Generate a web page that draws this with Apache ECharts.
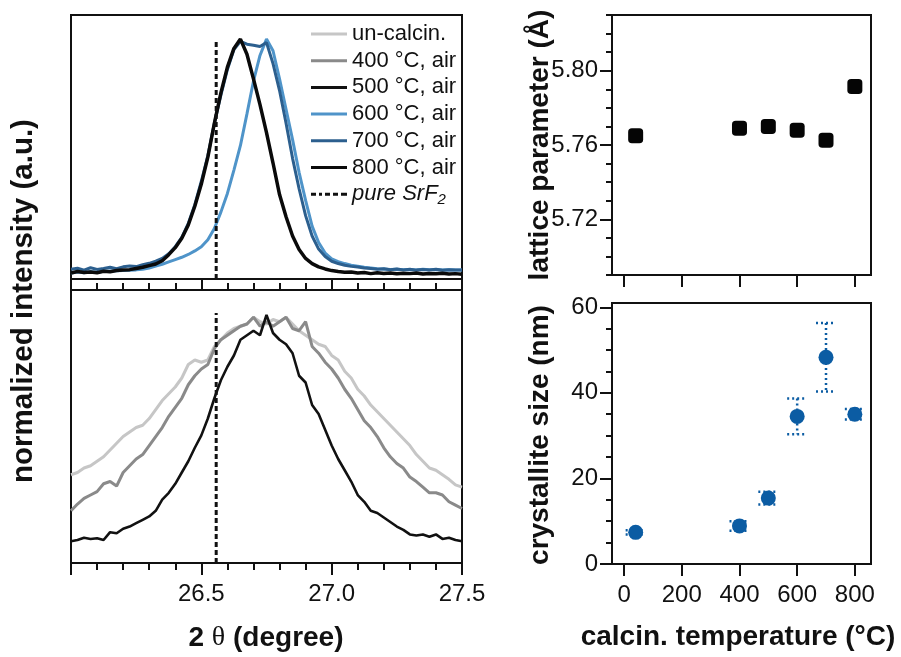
<!DOCTYPE html>
<html><head><meta charset="utf-8">
<script src="https://cdn.jsdelivr.net/npm/echarts@6/dist/echarts.min.js"></script>
<style>html,body{margin:0;padding:0;background:#fff}#c{width:901px;height:657px}</style>
</head><body><div id="c"></div>
<script>
// ---- data ----
const twoTheta = [26.000,26.025,26.050,26.075,26.100,26.125,26.150,26.175,26.200,26.225,
  26.250,26.275,26.300,26.325,26.350,26.375,26.400,26.425,26.450,26.475,
  26.500,26.525,26.550,26.575,26.600,26.625,26.650,26.675,26.700,26.725,
  26.750,26.775,26.800,26.825,26.850,26.875,26.900,26.925,26.950,26.975,
  27.000,27.025,27.050,27.075,27.100,27.125,27.150,27.175,27.200,27.225,
  27.250,27.275,27.300,27.325,27.350,27.375,27.400,27.425,27.450,27.475,27.500];
// upper panel (normalized)
const top600 = [0.000,0.004,0.001,0.006,0.003,0.007,0.008,0.009,0.010,0.011,
  0.013,0.016,0.021,0.029,0.037,0.047,0.057,0.067,0.079,0.094,
  0.112,0.142,0.190,0.260,0.340,0.440,0.545,0.680,0.820,0.930,
  1.000,0.950,0.830,0.700,0.570,0.430,0.310,0.200,0.130,0.085,
  0.060,0.048,0.040,0.033,0.029,0.024,0.021,0.018,0.017,0.015,
  0.016,0.014,0.015,0.013,0.016,0.014,0.015,0.013,0.014,0.012,0.013];
const top700 = [0.016,0.020,0.012,0.022,0.015,0.019,0.024,0.018,0.026,0.030,
  0.027,0.035,0.041,0.050,0.062,0.082,0.112,0.152,0.212,0.292,
  0.392,0.502,0.640,0.760,0.870,0.955,0.990,0.978,0.974,0.968,
  0.985,0.895,0.780,0.640,0.490,0.360,0.245,0.158,0.102,0.070,
  0.050,0.040,0.033,0.028,0.025,0.021,0.019,0.016,0.018,0.014,
  0.017,0.013,0.016,0.012,0.015,0.013,0.016,0.011,0.014,0.012,0.013];
const top800 = [0.000,0.006,0.002,0.004,0.001,0.007,0.005,0.010,0.012,0.014,
  0.019,0.024,0.031,0.038,0.052,0.078,0.108,0.148,0.205,0.285,
  0.380,0.495,0.640,0.770,0.880,0.960,1.000,0.935,0.830,0.720,
  0.600,0.470,0.335,0.240,0.158,0.100,0.062,0.040,0.026,0.017,
  0.010,0.006,0.003,0.004,0.000,0.002,-0.003,0.001,-0.002,0.000,
  -0.004,-0.001,-0.003,0.000,-0.005,-0.002,-0.004,-0.001,-0.005,-0.003,-0.006];
// lower panel (normalized)
const botUncalc = [0.29,0.30,0.32,0.33,0.35,0.37,0.40,0.43,0.46,0.48,
  0.50,0.51,0.54,0.58,0.62,0.65,0.68,0.72,0.78,0.80,
  0.79,0.80,0.86,0.89,0.92,0.94,0.95,0.96,0.99,0.97,
  0.96,0.98,0.97,0.99,0.96,0.93,0.91,0.89,0.87,0.86,
  0.82,0.80,0.75,0.72,0.67,0.64,0.60,0.57,0.54,0.51,
  0.48,0.45,0.42,0.38,0.35,0.32,0.31,0.29,0.27,0.245,0.235];
const bot400 = [0.13,0.16,0.185,0.20,0.215,0.25,0.26,0.24,0.30,0.33,
  0.36,0.38,0.42,0.46,0.50,0.55,0.59,0.63,0.69,0.73,
  0.76,0.78,0.85,0.89,0.91,0.93,0.95,0.96,0.99,0.95,
  0.97,0.95,0.97,0.99,0.94,0.93,0.97,0.86,0.83,0.79,
  0.76,0.72,0.67,0.63,0.58,0.53,0.50,0.46,0.41,0.37,
  0.34,0.32,0.28,0.26,0.235,0.21,0.21,0.20,0.17,0.155,0.14];
const bot500 = [-0.005,0.000,0.010,0.005,0.008,0.000,0.035,0.030,0.050,0.060,
  0.075,0.090,0.105,0.130,0.180,0.210,0.250,0.300,0.350,0.410,
  0.465,0.540,0.630,0.710,0.770,0.820,0.890,0.910,0.930,0.910,
  1.000,0.920,0.890,0.870,0.830,0.730,0.700,0.600,0.560,0.490,
  0.420,0.360,0.310,0.260,0.200,0.170,0.130,0.120,0.100,0.080,
  0.060,0.045,0.025,0.020,0.025,0.015,0.025,0.005,0.010,0.000,-0.005];
const srf2Pos = 26.557;
// right panels
const temps = [40, 400, 500, 600, 700, 800];
const lattice = [5.765, 5.769, 5.770, 5.768, 5.7625, 5.7915];
const latticeErr = [0.0016, 0.0005, 0.0008, 0.0005, 0.0005, 0.0012];
const sizes = [7.4, 8.9, 15.4, 34.5, 48.3, 35.0];
const sizeErr = [0.5, 1.1, 1.5, 4.2, 8.0, 1.2];
// tick values
const tempTicks = [0, 200, 400, 600, 800];
const latticeTicks = [5.72, 5.76, 5.80];
const latticeMinor = [5.69,5.70,5.71,5.72,5.73,5.74,5.75,5.76,5.77,5.78,5.79,5.80,5.81,5.82,5.83];
const sizeTicks = [0, 20, 40, 60];
const sizeMinor = [0,5,10,15,20,25,30,35,40,45,50,55,60];

// ---- chart ----
const FONT = "'Liberation Sans', Arial, sans-serif";
const pair = (xs, ys) => xs.map((x, i) => [x, ys[i]]);
const chart = echarts.init(document.getElementById('c'), null, {renderer: 'canvas'});

function errRender(color, dash, capHalf, lw) {
  return function (params, api) {
    const x = api.value(0), y = api.value(1), e = api.value(2);
    const hi = api.coord([x, y + e]), lo = api.coord([x, y - e]);
    const st = () => ({stroke: color, lineWidth: lw, lineDash: dash});
    return {type: 'group', children: [
      {type: 'line', shape: {x1: hi[0], y1: hi[1], x2: lo[0], y2: lo[1]}, style: st()},
      {type: 'line', shape: {x1: hi[0] - capHalf, y1: hi[1], x2: hi[0] + capHalf, y2: hi[1]}, style: st()},
      {type: 'line', shape: {x1: lo[0] - capHalf, y1: lo[1], x2: lo[0] + capHalf, y2: lo[1]}, style: st()}
    ]};
  };
}

const gridBase = {show: true, borderColor: '#111', borderWidth: 2, backgroundColor: 'transparent', containLabel: false, outerBoundsMode: 'none'};
const noLine = {show: false, onZero: false};
const hidden = (extra) => Object.assign({type: 'value', axisLine: noLine, axisTick: {show: false}, axisLabel: {show: false}, splitLine: {show: false}}, extra);
const tickStyle = {color: '#111', width: 2};
const labelStyle = {color: '#111', fontSize: 24, fontFamily: FONT};

const C = {un: '#c6c6c6', t400: '#8a8a8a', t500: '#111111', t600: '#4f94c9', t700: '#2c5f8e', t800: '#0a0a0a', dot: '#0b5ca3'};

const lineSeries = (name, data, color, width, xi, yi, z) => ({
  name, type: 'line', data, xAxisIndex: xi, yAxisIndex: yi, symbol: 'none', showSymbol: false,
  lineStyle: {color, width}, itemStyle: {color}, z: z || 2, animation: false
});

const dashIcon = 'path://M0,0h5v3h-5z M8,0h3v3h-3z M14,0h5v3h-5z M22,0h5v3h-5z M30,0h6v3h-6z';

const option = {
  animation: false,
  backgroundColor: '#fff',
  grid: [
    Object.assign({left: 71, top: 15, width: 391, height: 264}, gridBase),
    Object.assign({left: 71, top: 290, width: 391, height: 273}, gridBase),
    Object.assign({left: 612, top: 15, width: 259, height: 260}, gridBase),
    Object.assign({left: 612, top: 303, width: 259, height: 261}, gridBase)
  ],
  xAxis: [
    hidden({gridIndex: 0, min: 26, max: 27.5}),
    {type: 'value', gridIndex: 1, min: 26, max: 27.5, interval: 0.5, position: 'bottom',
      axisLine: noLine, splitLine: {show: false},
      axisTick: {show: true, length: 12, lineStyle: tickStyle},
      minorTick: {show: true, splitNumber: 5, length: 7, lineStyle: tickStyle},
      axisLabel: Object.assign({margin: 19, formatter: v => (Math.abs(v - 26) < 1e-6 ? '' : v.toFixed(1))}, labelStyle)},
    {type: 'value', gridIndex: 1, min: 26, max: 27.5, interval: 0.5, position: 'top',
      axisLine: noLine, splitLine: {show: false},
      axisTick: {show: true, length: 11, lineStyle: tickStyle},
      minorTick: {show: true, splitNumber: 5, length: 7, lineStyle: tickStyle},
      axisLabel: {show: false}},
    {type: 'value', gridIndex: 2, min: -42, max: 856, position: 'bottom',
      axisLine: noLine, splitLine: {show: false},
      axisTick: {show: true, length: 12, lineStyle: tickStyle, customValues: tempTicks},
      axisLabel: {show: false}},
    {type: 'value', gridIndex: 3, min: -42, max: 856, position: 'bottom',
      axisLine: noLine, splitLine: {show: false},
      axisTick: {show: true, length: 12, lineStyle: tickStyle, customValues: tempTicks},
      axisLabel: Object.assign({margin: 19, customValues: tempTicks}, labelStyle)}
  ],
  yAxis: [
    hidden({gridIndex: 0, min: -0.026, max: 1.103}),
    hidden({gridIndex: 1, min: -0.102, max: 1.111}),
    {type: 'value', gridIndex: 2, min: 5.69, max: 5.83, position: 'left',
      axisLine: noLine, splitLine: {show: false},
      axisTick: {show: true, length: 12, lineStyle: tickStyle, customValues: latticeTicks},
      axisLabel: Object.assign({margin: 14, customValues: latticeTicks, formatter: v => v.toFixed(2)}, labelStyle)},
    {type: 'value', gridIndex: 2, min: 5.69, max: 5.83, position: 'left',
      axisLine: noLine, splitLine: {show: false},
      axisTick: {show: true, length: 6, lineStyle: tickStyle, customValues: latticeMinor},
      axisLabel: {show: false}},
    {type: 'value', gridIndex: 3, min: 0, max: 61, position: 'left',
      axisLine: noLine, splitLine: {show: false},
      axisTick: {show: true, length: 12, lineStyle: tickStyle, customValues: sizeTicks},
      axisLabel: Object.assign({margin: 14, customValues: sizeTicks}, labelStyle)},
    {type: 'value', gridIndex: 3, min: 0, max: 61, position: 'left',
      axisLine: noLine, splitLine: {show: false},
      axisTick: {show: true, length: 6, lineStyle: tickStyle, customValues: sizeMinor},
      axisLabel: {show: false}}
  ],
  legend: {
    orient: 'vertical', left: 311, top: 22, padding: 0, itemWidth: 36, itemHeight: 3, itemGap: 2.7,
    selectedMode: false,
    data: [
      {name: 'un-calcin.', icon: 'rect'},
      {name: '400 °C, air', icon: 'rect'},
      {name: '500 °C, air', icon: 'rect'},
      {name: '600 °C, air', icon: 'rect'},
      {name: '700 °C, air', icon: 'rect'},
      {name: '800 °C, air', icon: 'rect'},
      {name: 'pure SrF2', icon: dashIcon}
    ],
    formatter: name => name === 'pure SrF2' ? '{it|pure SrF}{sub|2}' : name,
    textStyle: {color: '#111', fontSize: 22, fontFamily: FONT, lineHeight: 24,
      rich: {it: {fontStyle: 'italic', fontSize: 22, fontFamily: FONT, color: '#111'},
             sub: {fontStyle: 'italic', fontSize: 15, fontFamily: FONT, color: '#111', padding: [12, 0, 0, 0]}}}
  },
  series: [
    lineSeries('600 °C, air', pair(twoTheta, top600), C.t600, 3, 0, 0, 2),
    lineSeries('700 °C, air', pair(twoTheta, top700), C.t700, 3, 0, 0, 3),
    lineSeries('800 °C, air', pair(twoTheta, top800), C.t800, 3.5, 0, 0, 4),
    lineSeries('un-calcin.', pair(twoTheta, botUncalc), C.un, 3, 1, 1, 2),
    lineSeries('400 °C, air', pair(twoTheta, bot400), C.t400, 3, 1, 1, 3),
    lineSeries('500 °C, air', pair(twoTheta, bot500), C.t500, 2.6, 1, 1, 4),
    {name: 'pure SrF2', type: 'line', xAxisIndex: 0, yAxisIndex: 0, symbol: 'none',
      data: [[srf2Pos, -0.026], [srf2Pos, 1.0]], z: 5,
      lineStyle: {color: '#111', width: 3, type: [5, 3]}, itemStyle: {color: '#111'}},
    {name: 'pure SrF2', type: 'line', xAxisIndex: 1, yAxisIndex: 1, symbol: 'none',
      data: [[srf2Pos, -0.102], [srf2Pos, 1.009]], z: 5,
      lineStyle: {color: '#111', width: 3, type: [5, 3]}, itemStyle: {color: '#111'}},
    {name: 'latticeErr', type: 'custom', xAxisIndex: 3, yAxisIndex: 2, coordinateSystem: 'cartesian2d',
      encode: {x: 0, y: 1}, data: temps.map((t, i) => [t, lattice[i], latticeErr[i]]),
      renderItem: errRender('#111', null, 4, 2), z: 3},
    {name: 'lattice', type: 'scatter', xAxisIndex: 3, yAxisIndex: 2, symbol: 'roundRect', symbolSize: 15,
      data: pair(temps, lattice), itemStyle: {color: '#050505', opacity: 1}, z: 4},
    {name: 'sizeErr', type: 'custom', xAxisIndex: 4, yAxisIndex: 4, coordinateSystem: 'cartesian2d',
      encode: {x: 0, y: 1}, data: temps.map((t, i) => [t, sizes[i], sizeErr[i]]),
      renderItem: errRender(C.dot, [2, 3], 10, 2.5), z: 3},
    {name: 'size', type: 'scatter', xAxisIndex: 4, yAxisIndex: 4, symbol: 'circle', symbolSize: 15,
      data: pair(temps, sizes), itemStyle: {color: C.dot, opacity: 1}, z: 4}
  ],
  graphic: [
    {type: 'text', x: 24, y: 301, rotation: Math.PI / 2,
      style: {text: 'normalized intensity (a.u.)', font: "bold 29.5px " + FONT, fill: '#111', align: 'center', verticalAlign: 'middle'}},
    {type: 'text', x: 540, y: 145, rotation: Math.PI / 2,
      style: {text: 'lattice parameter (Å)', font: "bold 28px " + FONT, fill: '#111', align: 'center', verticalAlign: 'middle'}},
    {type: 'text', x: 540, y: 435, rotation: Math.PI / 2,
      style: {text: 'crystallite size (nm)', font: "bold 28px " + FONT, fill: '#111', align: 'center', verticalAlign: 'middle'}},
    {type: 'text', x: 266, y: 638,
      style: {text: '{b|2 }{t|θ}{b| (degree)}', fill: '#111', align: 'center', verticalAlign: 'middle',
        rich: {b: {font: "bold 28px " + FONT, fill: '#111'}, t: {font: "28px 'Liberation Serif', serif", fill: '#111'}}}},
    {type: 'text', x: 738, y: 637,
      style: {text: 'calcin. temperature (°C)', font: "bold 28px " + FONT, fill: '#111', align: 'center', verticalAlign: 'middle'}}
  ]
};
chart.setOption(option);
</script></body></html>
